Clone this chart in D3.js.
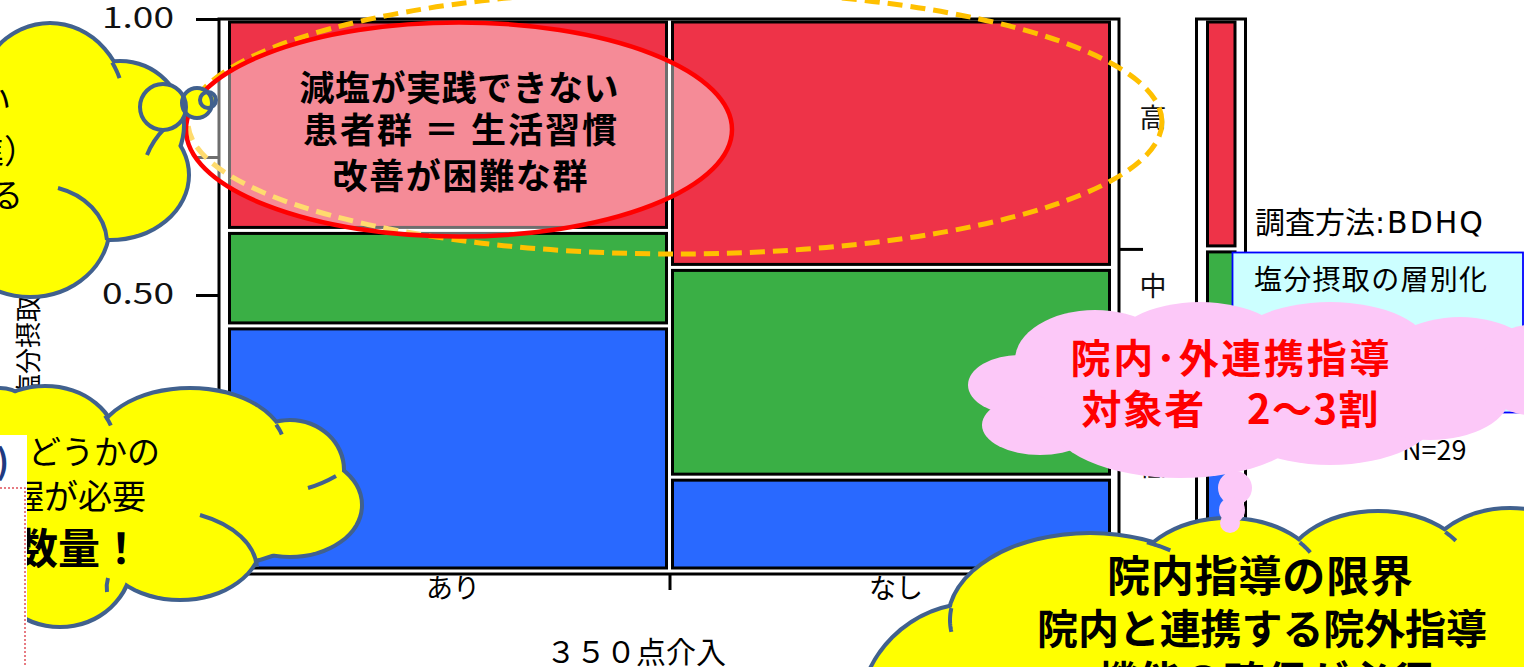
<!DOCTYPE html>
<html lang="ja">
<head>
<meta charset="utf-8">
<title>塩分摂取レベル × 350点介入</title>
<script src="https://cdn.jsdelivr.net/npm/d3@7/dist/d3.min.js"></script>
<style>
  html, body { margin: 0; padding: 0; background: #fff; overflow: hidden; }
  svg { display: block; }
  text { font-family: "Noto Sans CJK JP", "Noto Sans", sans-serif; white-space: pre; }
</style>
</head>
<body>
<svg id="chart" width="1524" height="667"></svg>
<script>
// ---- data: share of each salt-intake level within each intervention group ----
const groups = ["あり", "なし"];
const groupShare = [0.5, 0.5];
const levels = ["低", "中", "高"];            // stacked bottom to top
const lowShare = [0.444, 0.170];
const midShare = [0.173, 0.380];
const highShare = [0.383, 0.450];
const yTicks = [0, 0.25, 0.5, 0.75, 1];
const yTickLabels = ["0.00", "0.25", "0.50", "0.75", "1.00"];
const levelLabelAt = [0.190, 0.515, 0.821];  // right-hand level labels, in axis units
const xTitle = "３５０点介入";
const yTitle = "塩分摂取レベル";
const levelColors = ["#2969FF", "#3AAF45", "#EE3348"];

const svg = d3.select("#chart");
const plot = { left: 219, right: 1119, top: 19, bottom: 574 };
const y = d3.scaleLinear().domain([0, 1]).range([571, 19]);
const x = d3.scaleLinear().domain([0, 1]).range([226.5, 1112.5]);
const xm = d3.scaleLinear().domain([0, 1]).range([1204.5, 1238]);
const inset = 3;       // half of the white gap plus half of the tile outline
const INK = "#000";

function label(g, t, px, py, size, o = {}) {
  const el = g.append("text").attr("x", px).attr("y", py).attr("font-size", size).text(t);
  if (o.anchor) el.attr("text-anchor", o.anchor);
  if (o.weight) el.attr("font-weight", o.weight);
  el.attr("fill", o.fill || INK);
  if (o.family) el.attr("font-family", o.family);
  if (o.len) el.attr("textLength", o.len).attr("lengthAdjust", o.adjust || "spacing");
  return el;
}

// ---------- mosaic chart ----------
const chart = svg.append("g");

label(chart, yTitle, 0, 0, 26)
  .attr("transform", "translate(38,400) rotate(-90)");

chart.append("rect")
  .attr("x", plot.left).attr("y", plot.top)
  .attr("width", plot.right - plot.left).attr("height", plot.bottom - plot.top)
  .attr("fill", "none").attr("stroke", INK).attr("stroke-width", 3);

const shares = [lowShare, midShare, highShare];
const cells = [];
let xAcc = 0;
groups.forEach((g, gi) => {
  let yAcc = 0;
  levels.forEach((lv, li) => {
    const v = shares[li][gi];
    cells.push({ gi, li, x0: xAcc, x1: xAcc + groupShare[gi], y0: yAcc, y1: yAcc + v });
    yAcc += v;
  });
  xAcc += groupShare[gi];
});

chart.selectAll("rect.tile").data(cells).join("rect")
  .attr("class", "tile")
  .attr("x", d => x(d.x0) + inset)
  .attr("y", d => y(d.y1) + inset)
  .attr("width", d => x(d.x1) - x(d.x0) - 2 * inset)
  .attr("height", d => y(d.y0) - y(d.y1) - 2 * inset)
  .attr("fill", d => levelColors[d.li])
  .attr("stroke", INK).attr("stroke-width", 3);

// left axis
const gy = chart.append("g").attr("transform", `translate(${plot.left},0)`)
  .call(d3.axisLeft(y).tickValues(yTicks).tickFormat((d, i) => yTickLabels[i])
    .tickSize(23).tickPadding(22));
gy.select(".domain").remove();
gy.selectAll(".tick line").attr("stroke", INK).attr("stroke-width", 3);
gy.selectAll(".tick text").attr("font-family", "DejaVu Sans").attr("font-size", 28)
  .attr("fill", "#111").attr("textLength", 72).attr("lengthAdjust", "spacingAndGlyphs");

// bottom axis: tick at the column boundary, names under column centres
const colCuts = groupShare.slice(0, -1).map((s, i) => d3.sum(groupShare.slice(0, i + 1)));
const gx = chart.append("g").attr("transform", `translate(0,${plot.bottom})`)
  .call(d3.axisBottom(x).tickValues(colCuts).tickSize(16).tickFormat(""));
gx.select(".domain").remove();
gx.selectAll(".tick line").attr("stroke", INK).attr("stroke-width", 3);

chart.selectAll("text.grp").data(groups).join("text")
  .attr("class", "grp")
  .attr("x", (d, i) => x(d3.sum(groupShare.slice(0, i)) + groupShare[i] / 2) + 5)
  .attr("y", 598)
  .attr("text-anchor", "middle").attr("font-size", 27).attr("fill", INK)
  .text(d => d);

label(chart, xTitle, 636, 663, 30, { anchor: "middle" });

// marginal column
const marg = levels.map((lv, li) => d3.sum(groupShare, (s, gi) => s * shares[li][gi]));
let mAcc = 0;
const margCells = marg.map((v, li) => { const c = { li, y0: mAcc, y1: mAcc + v }; mAcc += v; return c; });

chart.append("rect")
  .attr("x", 1196.5).attr("y", plot.top).attr("width", 49).attr("height", plot.bottom - plot.top)
  .attr("fill", "none").attr("stroke", INK).attr("stroke-width", 3);

chart.selectAll("rect.marg").data(margCells).join("rect")
  .attr("class", "marg")
  .attr("x", xm(0) + inset).attr("width", xm(1) - xm(0) - 2 * inset)
  .attr("y", d => y(d.y1) + inset)
  .attr("height", d => y(d.y0) - y(d.y1) - 2 * inset)
  .attr("fill", d => levelColors[d.li])
  .attr("stroke", INK).attr("stroke-width", 3);

// right axis: ticks at the marginal level boundaries
const gr = chart.append("g").attr("transform", `translate(${plot.right},0)`)
  .call(d3.axisRight(y).tickValues(margCells.slice(0, -1).map(c => c.y1)).tickSize(24).tickFormat(""));
gr.select(".domain").remove();
gr.selectAll(".tick line").attr("stroke", INK).attr("stroke-width", 3);

chart.selectAll("text.lvl").data(levels).join("text")
  .attr("class", "lvl")
  .attr("x", 1153).attr("y", (d, i) => y(levelLabelAt[i])).attr("dy", "0.36em")
  .attr("text-anchor", "middle").attr("font-size", 27).attr("fill", "#111")
  .text(d => d);

// ---------- notes beside the chart ----------
const notes = svg.append("g");
const method = notes.append("text").attr("x", 1255).attr("y", 233).attr("fill", INK);
method.append("tspan").attr("font-size", 30).text("調査方法");
method.append("tspan").attr("font-family", "DejaVu Sans").attr("font-size", 30)
  .attr("letter-spacing", 2).text(":BDHQ");
notes.append("rect").attr("x", 1232.5).attr("y", 252.5).attr("width", 290.5).attr("height", 160)
  .attr("fill", "#CCFFFF").attr("stroke", "#0000FF").attr("stroke-width", 1.8);
label(notes, "塩分摂取の層別化", 1254, 290, 28, { len: 233 });
label(notes, "N=29", 1402, 460, 27, { family: "DejaVu Sans" });

// ---------- highlight ellipses ----------
svg.append("ellipse")
  .attr("cx", 675).attr("cy", 122).attr("rx", 487).attr("ry", 132)
  .attr("fill", "none").attr("stroke", "#FFC000").attr("stroke-width", 5)
  .attr("stroke-dasharray", "15 8");

const hl = svg.append("g");
hl.append("ellipse")
  .attr("cx", 459).attr("cy", 129.5).attr("rx", 273).attr("ry", 107)
  .attr("fill", "#FFFFFF").attr("fill-opacity", 0.43)
  .attr("stroke", "#FF0000").attr("stroke-width", 4.5);
label(hl, "減塩が実践できない", 459, 101, 35, { anchor: "middle", weight: 700, len: 319 });
label(hl, "患者群 ＝ 生活習慣", 460, 143, 35, { anchor: "middle", weight: 700, len: 314 });
label(hl, "改善が困難な群", 460, 189, 35, { anchor: "middle", weight: 700, len: 255 });

// ---------- cloud callouts ----------
const CLOUD_LINE = "#41618E";

function ellipseArc(l, a0, a1) {
  const [cx, cy, rx, ry] = l;
  const pts = d3.range(0, 13).map(i => {
    const a = (a0 + (a1 - a0) * i / 12) * Math.PI / 180;
    return [cx + rx * Math.cos(a), cy + ry * Math.sin(a)];
  });
  return d3.line()(pts);
}

function cloud(lobes, o) {
  const g = svg.append("g");
  if (o.stroke) {
    g.selectAll(null).data(lobes).join("ellipse")
      .attr("cx", d => d[0]).attr("cy", d => d[1]).attr("rx", d => d[2]).attr("ry", d => d[3])
      .attr("fill", o.fill).attr("stroke", o.stroke).attr("stroke-width", o.width * 2);
  }
  g.selectAll(null).data(lobes).join("ellipse")
    .attr("cx", d => d[0]).attr("cy", d => d[1]).attr("rx", d => d[2]).attr("ry", d => d[3])
    .attr("fill", o.fill);
  if (o.tails) {
    g.selectAll(null).data(o.tails).join("path")
      .attr("d", d => typeof d === "string" ? d : ellipseArc(d[0], d[1], d[2]))
      .attr("fill", "none").attr("stroke", o.stroke).attr("stroke-width", o.width)
      .attr("stroke-linecap", "butt");
  }
  return g;
}

// top-left thought cloud
const tl = [[50, 110, 75, 85], [120, 125, 62, 62], [110, 175, 77, 63], [30, 225, 78, 70],
            [40, 160, 95, 95], [-20, 170, 40, 110]];
const tlCloud = cloud(tl, {
  fill: "#FFFF00", stroke: CLOUD_LINE, width: 4,
  tails: [[tl[0], -34, -22], "M165,128 Q153,140 147,155", "M58,188 C85,195 105,215 107,240"]
});
label(tlCloud, "量の多い", 11, 112, 33, { anchor: "end" });
label(tlCloud, "（減塩推進）", 37, 163, 33, { anchor: "end" });
label(tlCloud, "把握する", 23, 207, 33, { anchor: "end" });

const bubbles = [[163, 107, 23], [197, 103, 15], [208, 100, 8]];
const bub = svg.append("g");
bub.selectAll(null).data(bubbles).join("circle")
  .attr("cx", d => d[0]).attr("cy", d => d[1]).attr("r", d => d[2]).attr("fill", "#FFFF00");
bub.selectAll(null).data(bubbles).join("circle")
  .attr("cx", d => d[0]).attr("cy", d => d[1]).attr("r", d => d[2])
  .attr("fill", "none").attr("stroke", CLOUD_LINE).attr("stroke-width", 4);

// bottom-left cloud
const bl = [[45, 445, 70, 57], [190, 450, 95, 60], [290, 470, 52, 48], [290, 505, 70, 50],
            [180, 540, 80, 58], [60, 560, 70, 65], [170, 495, 165, 75], [0, 500, 60, 110]];
const blCloud = cloud(bl, {
  fill: "#FFFF00", stroke: CLOUD_LINE, width: 4,
  tails: [[bl[0], -31, -20], [bl[1], -25, -15], "M336,476 Q322,484 308,488",
          "M200,515 C235,525 255,545 257,567", "M107,592 Q106,585 108,578"]
});
label(blCloud, "どうかの", 160, 464, 33, { anchor: "end" });
label(blCloud, "握が必要", 146, 509, 34, { anchor: "end" });
label(blCloud, "数量！", 142, 564, 42, { anchor: "end", weight: 700 });

// slide panel peeking in at the lower left
const panel = svg.append("g");
panel.append("rect").attr("x", -5).attr("y", 435).attr("width", 32).attr("height", 240).attr("fill", "#FFFFFF");
label(panel, ")", 9, 474, 34, { anchor: "end", weight: 700, fill: "#1F3A80", family: "DejaVu Sans" });
panel.append("path").attr("d", "M0,488 H25 V667")
  .attr("fill", "none").attr("stroke", "#E0505A").attr("stroke-width", 1.5).attr("stroke-dasharray", "2 2");

// bottom-right cloud
const br = [[975, 720, 115, 115], [1090, 620, 140, 85], [1228, 585, 95, 65], [1378, 578, 95, 65],
            [1510, 580, 90, 70], [1480, 660, 120, 80], [1220, 700, 330, 110]];
const brCloud = cloud(br, {
  fill: "#FFFF00", stroke: CLOUD_LINE, width: 4,
  tails: [[br[1], -66, -55], [br[1], 188, 172], [br[2], -41, -30], [br[3], -45, -35]]
});
label(brCloud, "院内指導の限界", 1260, 592, 43, { anchor: "middle", weight: 700, len: 306 });
label(brCloud, "院内と連携する院外指導", 1262, 644, 41, { anchor: "middle", weight: 700, len: 450 });
label(brCloud, "機能の確保が必須", 1265, 696, 41, { anchor: "middle", weight: 700, len: 335 });

// pink cloud
const pk = [[1020, 385, 52, 30], [1040, 425, 58, 30], [1095, 360, 80, 50], [1200, 350, 90, 48],
            [1330, 350, 100, 48], [1460, 365, 80, 48], [1530, 370, 50, 45], [1180, 420, 130, 58],
            [1330, 410, 110, 55], [1430, 395, 80, 45], [1505, 375, 40, 30],
            [1235, 488, 17, 17], [1232, 510, 13, 13], [1230, 523, 10, 10]];
const pkCloud = cloud(pk, { fill: "#FCC8F8" });
label(pkCloud, "院内･外連携指導", 1230, 373, 40, { anchor: "middle", weight: 700, fill: "#FF0000", len: 319 });
label(pkCloud, "対象者　2～3割", 1230, 424, 40, { anchor: "middle", weight: 700, fill: "#FF0000", len: 297 });
</script>
</body>
</html>
